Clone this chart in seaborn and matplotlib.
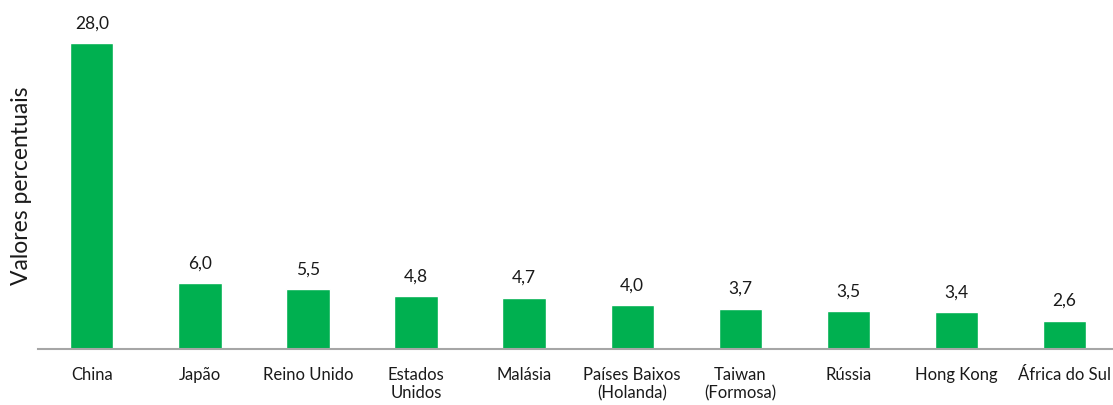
import pandas as pd
import matplotlib
matplotlib.use("Agg")
import matplotlib.pyplot as plt
import seaborn as sns

# Data
countries = ['China', 'Japão', 'Reino Unido', 'Estados\nUnidos', 'Malásia',
             'Países Baixos\n(Holanda)', 'Taiwan\n(Formosa)', 'Rússia',
             'Hong Kong', 'África do Sul']
values = [28.0, 6.0, 5.5, 4.8, 4.7, 4.0, 3.7, 3.5, 3.4, 2.6]

df = pd.DataFrame({'pais': countries, 'valor': values})

sns.set_style('white')
plt.rcParams['font.family'] = ['Lato', 'DejaVu Sans']

fig = plt.figure(figsize=(11.13, 4.06), dpi=100)
ax = fig.add_axes([0.034, 0.138, 0.966, 0.808])

sns.barplot(data=df, x='pais', y='valor', color='#00B050', saturation=1,
            width=0.4, ax=ax)

# Value labels with comma decimal separator
labels = [f'{v:.1f}'.replace('.', ',') for v in values]
ax.bar_label(ax.containers[0], labels=labels, padding=9, fontsize=12.5,
             color='#1a1a1a')

ax.set_ylim(0, 30)
ax.set_xlim(-0.5, 9.45)
ax.set_yticks([])
ax.set_xlabel('')
ax.set_ylabel('Valores percentuais', fontsize=16.5, color='#1a1a1a', labelpad=4)
ax.tick_params(axis='x', length=0, labelsize=12, labelcolor='#1a1a1a', pad=12)
for lbl in ax.get_xticklabels():
    lbl.set_linespacing(1.2)

for side in ['top', 'right', 'left']:
    ax.spines[side].set_visible(False)
ax.spines['bottom'].set_color('#a6a6a6')
ax.spines['bottom'].set_linewidth(1.5)

fig.savefig('out.png', dpi=100)
